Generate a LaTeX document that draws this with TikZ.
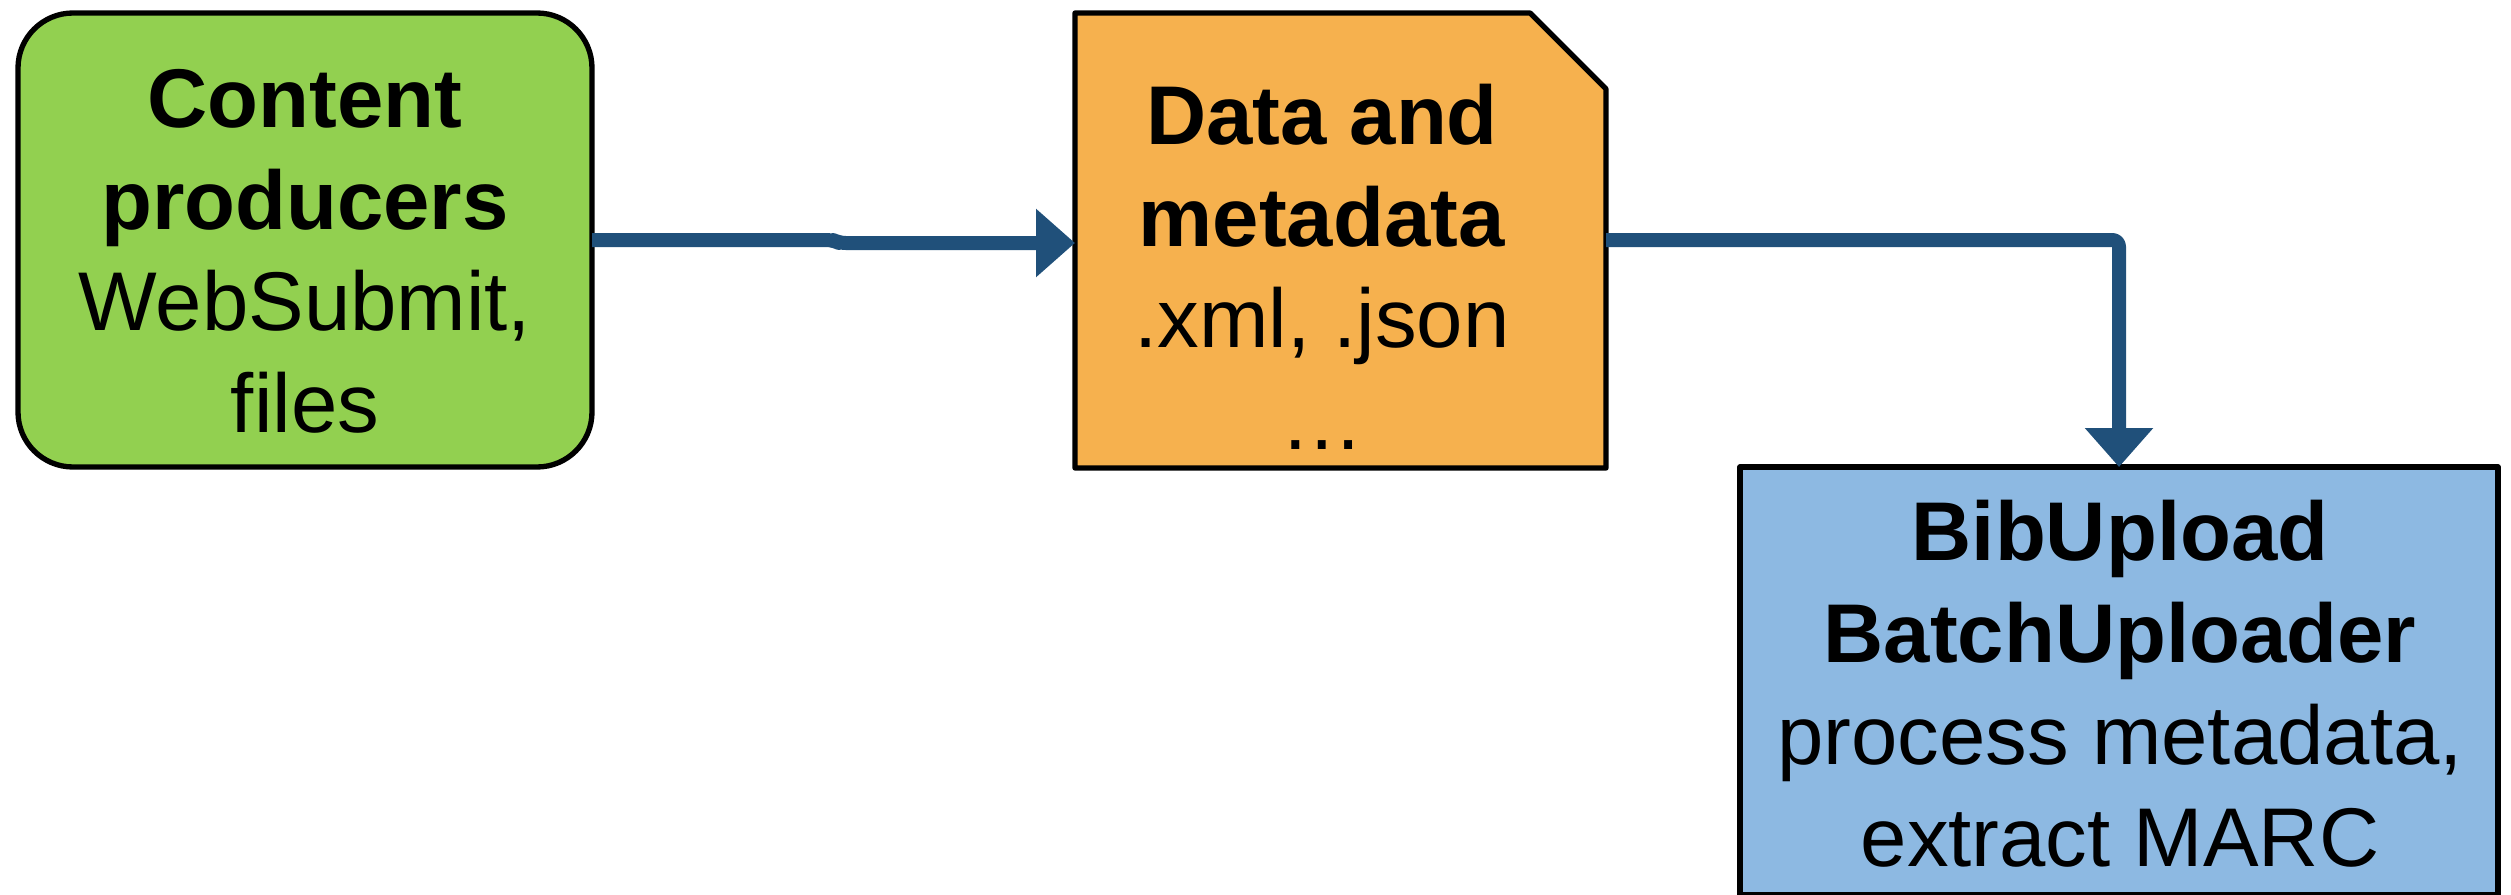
\documentclass[tikz,border=0pt]{standalone}
\usepackage{fontspec}
\setmainfont{Liberation Sans}
\usetikzlibrary{arrows.meta}
\definecolor{gfill}{HTML}{92D050}
\definecolor{ofill}{HTML}{F6B14E}
\definecolor{bfill}{HTML}{8DB9E2}
\definecolor{arr}{HTML}{20507A}
\begin{document}
\begin{tikzpicture}[x=0.3pt,y=-0.3pt,
  boxline/.style={draw=black,line width=1.6pt,line join=round},
  holder/.style={inner sep=0pt,outer sep=0pt},
  txt/.style={inner sep=0pt,outer sep=0pt,anchor=base,font=\fontsize{25}{30.6}\selectfont},
  conn/.style={draw=arr,line width=4.2pt,line join=round,rounded corners=2pt,
    -{Triangle[width=19.8pt,length=11.7pt]}}]
\useasboundingbox (0,0) rectangle (2511,894);
\clip (0,0) rectangle (2511,894);
% green rounded box
\node[holder,boxline,fill=gfill,rounded corners=16.5pt,minimum width=172.2pt,minimum height=136.2pt] (g) at (305,240) {};
\node[txt] (gt) at (305,127) {\begin{tabular}[t]{@{}c@{}}\textbf{Content}\\\textbf{producers}\\WebSubmit,\\files\end{tabular}};
% orange snipped box
\node[holder,minimum width=159.3pt,minimum height=136.5pt] (o) at (1340.5,240.5) {};
\draw[boxline,fill=ofill] (o.north west) -- ([xshift=-22.8pt]o.north east) -- ([yshift=-22.8pt]o.north east) -- (o.south east) -- (o.south west) -- cycle;
\node[txt] (ot) at (1322,144) {\begin{tabular}[t]{@{}c@{}}\textbf{Data and}\\\textbf{metadata}\\.xml, .json\\…\end{tabular}};
% blue box
\node[holder,boxline,fill=bfill,minimum width=227.4pt,minimum height=128.4pt] (b) at (2119,681) {};
\node[txt] (bt) at (2120,560) {\begin{tabular}[t]{@{}c@{}}\textbf{BibUpload}\\\textbf{BatchUploader}\\process metadata,\\extract MARC\end{tabular}};
% connectors
\coordinate (j1) at (833,240);
\coordinate (j2) at (839,243);
\draw[conn] (g.east |- j1) -- (j1) -- (j2) -- (o.west |- j2);
\coordinate (c2) at (2119,240);
\draw[conn] (o.east |- c2) -- (c2) -- (b.north);
\end{tikzpicture}
\end{document}
